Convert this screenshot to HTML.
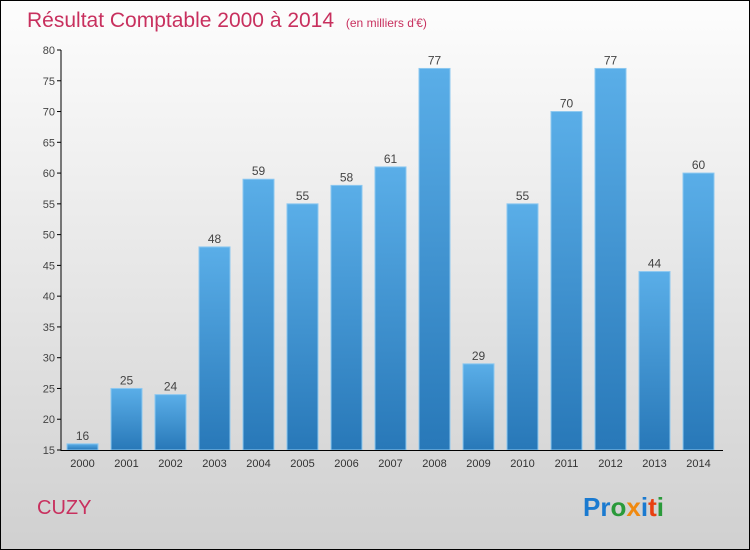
<!DOCTYPE html><html><head><meta charset="utf-8"><style>
body{margin:0}
#c{width:748px;height:548px;border:1px solid #000;background:linear-gradient(#fdfdfd,#d0d0d0);position:relative;font-family:"Liberation Sans",sans-serif;overflow:hidden}
</style></head><body>
<div id="c">
<svg id="s" width="748" height="548">
<defs><linearGradient id="g" x1="0" y1="0" x2="0" y2="1"><stop offset="0" stop-color="#5aaee8"/><stop offset="1" stop-color="#2878b8"/></linearGradient></defs>
<text x="26" y="26" font-size="21" fill="#c8305e">Résultat Comptable 2000 à 2014 <tspan font-size="12" dx="6">(en milliers d'€)</tspan></text>
<text x="36" y="513" font-size="20" fill="#c8305e">CUZY</text>
<text x="582" y="515" font-size="26" font-weight="bold"><tspan fill="#1a7ad0">Pr</tspan><tspan fill="#2a9a3a">o</tspan><tspan fill="#f08a10">x</tspan><tspan fill="#1a7ad0">i</tspan><tspan fill="#e84010">t</tspan><tspan fill="#2a9a3a">i</tspan></text>
<g id="plot"></g>
</svg></div>
<script>
const categories=["2000","2001","2002","2003","2004","2005","2006","2007","2008","2009","2010","2011","2012","2013","2014"];
const values=[16,25,24,48,59,55,58,61,77,29,55,70,77,44,60];
const yTicks=[15,20,25,30,35,40,45,50,55,60,65,70,75,80];
const ns="http://www.w3.org/2000/svg",p=document.getElementById('plot');
const y=v=>449-(v-15)*(400/65), x=i=>66+i*44;
function mk(t,a){const e=document.createElementNS(ns,t);for(const k in a)e.setAttribute(k,a[k]);p.appendChild(e);return e;}
yTicks.forEach(t=>{const l=mk('line',{x1:56,x2:60,y1:y(t),y2:y(t),stroke:'#000'});


const tx=mk('text',{x:54,y:y(t)+4,'text-anchor':'end','font-size':11,fill:'#444'});tx.textContent=t;

});
values.forEach((v,i)=>{const r=mk('rect',{x:x(i),y:y(v),width:31,height:449-y(v),fill:'url(#g)',stroke:'#8cc8f0','stroke-width':1});


const vt=mk('text',{x:x(i)+15.5,y:y(v)-4,'text-anchor':'middle','font-size':12,fill:'#444'});vt.textContent=v;


const ct=mk('text',{x:x(i)+15.5,y:466,'text-anchor':'middle','font-size':11,fill:'#333'});ct.textContent=categories[i];

});
const ya=mk('line',{x1:60,x2:60,y1:49,y2:450,stroke:'#000'});


const xa=mk('line',{x1:60,x2:722,y1:449.5,y2:449.5,stroke:'#000'});


</script></body></html>
